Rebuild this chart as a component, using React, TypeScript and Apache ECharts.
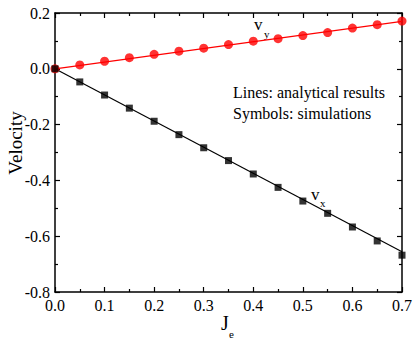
import React, { useEffect, useRef } from "react";
import * as echarts from "echarts";

const je = [0, 0.05, 0.1, 0.15, 0.2, 0.25, 0.3, 0.35, 0.4, 0.45, 0.5, 0.55, 0.6, 0.65, 0.7];
const vySim = [0, 0.014, 0.027, 0.04, 0.052, 0.063, 0.074, 0.087, 0.099, 0.108, 0.119, 0.13, 0.146, 0.158, 0.171];
const vxSim = [0, -0.047, -0.094, -0.141, -0.188, -0.236, -0.283, -0.329, -0.377, -0.425, -0.474, -0.518, -0.567, -0.617, -0.668];
const lineJe = [0, 0.7];
const vyLine = [0, 0.17];
const vxLine = [0, -0.656];

const FONT = "'Liberation Serif', 'Times New Roman', serif";

export default function App() {
  const ref = useRef<HTMLDivElement>(null);
  useEffect(() => {
    const chart = echarts.init(ref.current!, null, { renderer: "svg" });
    const axisCommon = {
      axisLine: { show: true, onZero: false, lineStyle: { color: "#000", width: 1.5 } },
      axisTick: { show: true, inside: true, length: 5, lineStyle: { color: "#000", width: 1.2 } },
      minorTick: { show: true, splitNumber: 2, length: 3, lineStyle: { color: "#000", width: 1.2 } },
      splitLine: { show: false },
    };
    chart.setOption({
      animation: false,
      backgroundColor: "#fff",
      grid: { left: 55, right: 13, top: 13, bottom: 51 },
      xAxis: [
        {
          type: "value", min: 0, max: 0.7, interval: 0.1, position: "bottom",
          ...axisCommon,
          axisLabel: {
            fontFamily: FONT, fontSize: 16, color: "#000", margin: 5,
            formatter: (v: number) => v.toFixed(1),
          },
        },
        {
          type: "value", min: 0, max: 0.7, interval: 0.1, position: "top",
          ...axisCommon, axisLabel: { show: false },
        },
      ],
      yAxis: [
        {
          type: "value", min: -0.8, max: 0.2, interval: 0.2, position: "left",
          ...axisCommon,
          axisLabel: {
            fontFamily: FONT, fontSize: 16, color: "#000", margin: 5,
            formatter: (v: number) => v.toFixed(1),
          },
        },
        {
          type: "value", min: -0.8, max: 0.2, interval: 0.2, position: "right",
          ...axisCommon, axisLabel: { show: false },
        },
      ],
      series: [
        {
          type: "line", data: lineJe.map((x, i) => [x, vyLine[i]]), symbol: "none",
          lineStyle: { color: "#ff0000", width: 1.2 }, z: 2,
        },
        {
          type: "line", data: lineJe.map((x, i) => [x, vxLine[i]]), symbol: "none",
          lineStyle: { color: "#000", width: 1.2 }, z: 2,
        },
        {
          type: "scatter", data: je.map((x, i) => [x, vySim[i]]), symbol: "circle", symbolSize: 9,
          itemStyle: { color: "#ff0000" }, z: 3,
        },
        {
          type: "scatter", data: je.map((x, i) => [x, vxSim[i]]), symbol: "rect", symbolSize: 7,
          itemStyle: { color: "#000" }, z: 3,
        },
      ],
      graphic: [
        { type: "text", x: 15, y: 143, rotation: Math.PI / 2, style: { text: "Velocity", font: `19px ${FONT}`, fill: "#000", textAlign: "center", textVerticalAlign: "middle" } },
        { type: "text", x: 221, y: 313, style: { text: "J", font: `20px ${FONT}`, fill: "#000" } },
        { type: "text", x: 229, y: 328, style: { text: "e", font: `11px ${FONT}`, fill: "#000" } },
        { type: "text", x: 254, y: 16, style: { text: "v", font: `17px ${FONT}`, fill: "#000" } },
        { type: "text", x: 264, y: 28, style: { text: "y", font: `11px ${FONT}`, fill: "#000" } },
        { type: "text", x: 311, y: 186, style: { text: "v", font: `17px ${FONT}`, fill: "#000" } },
        { type: "text", x: 320, y: 197, style: { text: "x", font: `11px ${FONT}`, fill: "#000" } },
        { type: "text", x: 233, y: 84, style: { text: "Lines: analytical results", font: `16px ${FONT}`, fill: "#000" } },
        { type: "text", x: 233, y: 105, style: { text: "Symbols: simulations", font: `16px ${FONT}`, fill: "#000" } },
      ],
    });
    return () => chart.dispose();
  }, []);
  return <div ref={ref} style={{ width: 415, height: 343, position: "absolute", left: 0, top: 0 }} />;
}
